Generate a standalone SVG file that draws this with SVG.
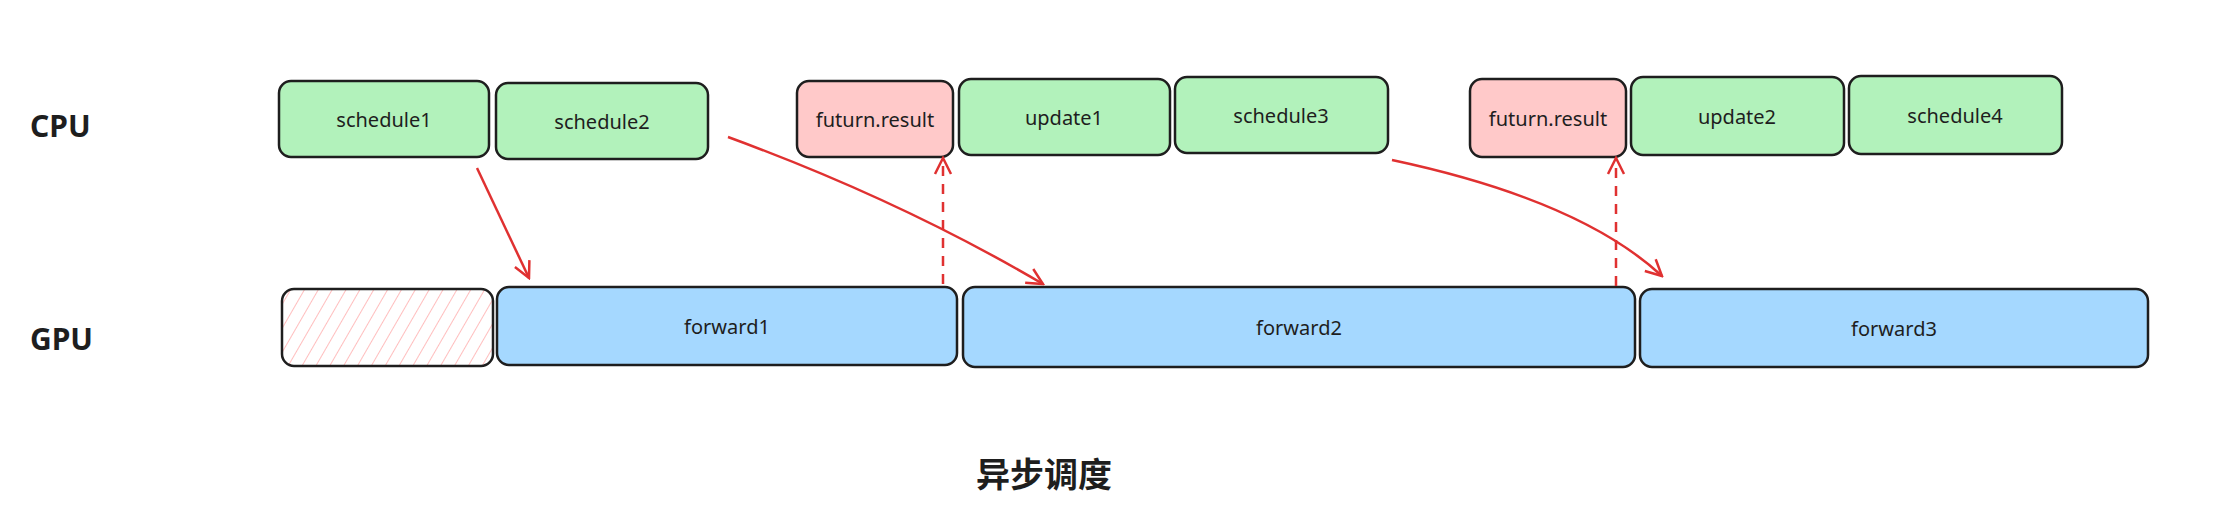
<svg xmlns="http://www.w3.org/2000/svg" width="2220" height="522" viewBox="0 0 2220 522">
<style>
.n{stroke:#1e1e1e;stroke-width:2.5}
.g{fill:#b2f2bb}.p{fill:#ffc9c9}.b{fill:#a5d8ff}
.t{font-family:"Noto Sans","Liberation Sans",sans-serif;font-size:20px;fill:#1e1e1e;text-anchor:middle;dominant-baseline:central}
.l{font-family:"Noto Sans","Liberation Sans",sans-serif;font-size:30px;font-weight:bold;fill:#1e1e1e;dominant-baseline:central}
.c{fill:none;stroke:#e03131;stroke-width:2.5}
.d{stroke-dasharray:10 8}
</style>
<defs>
<marker id="ah" viewBox="0 0 20 20" refX="18" refY="10" markerWidth="20" markerHeight="20" markerUnits="userSpaceOnUse" orient="auto"><path d="M2 2 L18 10 L2 18" fill="none" stroke="#e03131" stroke-width="2.5"/></marker>
<pattern id="h" width="12" height="12" patternUnits="userSpaceOnUse" patternTransform="rotate(30)"><line x1="0" y1="0" x2="0" y2="12" stroke="#ffa8a8" stroke-width="1.5"/></pattern>
</defs>
<rect width="2220" height="522" fill="#fff"/>
<text class="l" x="30" y="125">CPU</text>
<text class="l" x="30" y="338">GPU</text>
<g id="schedule1"><rect class="n g" x="279" y="81" width="210" height="76" rx="12"/><text class="t" x="384" y="119">schedule1</text></g>
<g id="schedule2"><rect class="n g" x="496" y="83" width="212" height="76" rx="12"/><text class="t" x="602" y="121">schedule2</text></g>
<g id="futurn1"><rect class="n p" x="797" y="81" width="156" height="76" rx="12"/><text class="t" x="875" y="119">futurn.result</text></g>
<g id="update1"><rect class="n g" x="959" y="79" width="211" height="76" rx="12"/><text class="t" x="1064" y="117">update1</text></g>
<g id="schedule3"><rect class="n g" x="1175" y="77" width="213" height="76" rx="12"/><text class="t" x="1281" y="115">schedule3</text></g>
<g id="futurn2"><rect class="n p" x="1470" y="79" width="156" height="78" rx="12"/><text class="t" x="1548" y="118">futurn.result</text></g>
<g id="update2"><rect class="n g" x="1631" y="77" width="213" height="78" rx="12"/><text class="t" x="1737" y="116">update2</text></g>
<g id="schedule4"><rect class="n g" x="1849" y="76" width="213" height="78" rx="12"/><text class="t" x="1955" y="115">schedule4</text></g>
<g id="idle"><rect x="282" y="289" width="211" height="77" rx="12" fill="url(#h)" stroke="#1e1e1e" stroke-width="2.5"/></g>
<g id="forward1"><rect class="n b" x="497" y="287" width="460" height="78" rx="12"/><text class="t" x="727" y="326">forward1</text></g>
<g id="forward2"><rect class="n b" x="963" y="287" width="672" height="80" rx="12"/><text class="t" x="1299" y="327">forward2</text></g>
<g id="forward3"><rect class="n b" x="1640" y="289" width="508" height="78" rx="12"/><text class="t" x="1894" y="328">forward3</text></g>
<g id="connectors">
<path class="c" d="M477 168 L529 278" marker-end="url(#ah)"/>
<path class="c" d="M728 137 Q900 200 1043 284" marker-end="url(#ah)"/>
<path class="c" d="M1392 160 Q1580 200 1662 276" marker-end="url(#ah)"/>
<path class="c d" d="M943 284 L943 158" marker-end="url(#ah)"/>
<path class="c d" d="M1616 286 L1616 158" marker-end="url(#ah)"/>
</g>
<text x="1044" y="472" style="font-family:'Noto Sans CJK SC',sans-serif;font-size:34px;font-weight:bold;fill:#1e1e1e" text-anchor="middle" dominant-baseline="central">异步调度</text>
</svg>
